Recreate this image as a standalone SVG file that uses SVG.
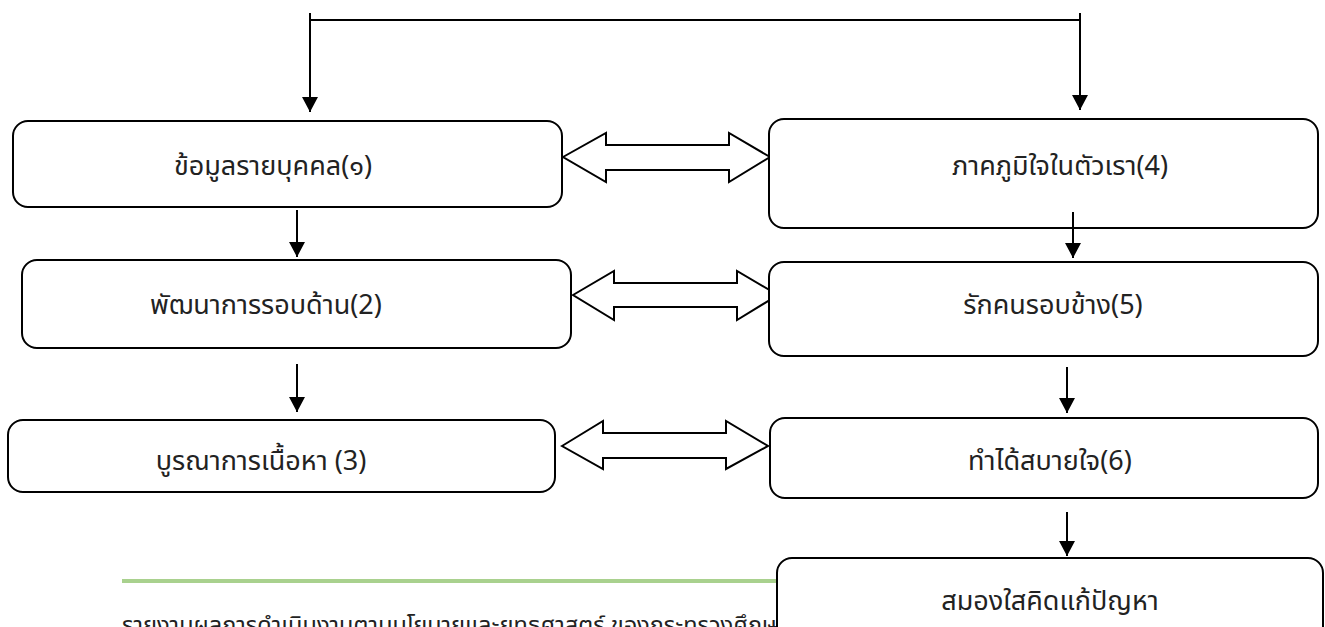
<svg xmlns="http://www.w3.org/2000/svg" width="1325" height="627" viewBox="0 0 1325 627">
<defs>
<marker id="ah" markerWidth="16" markerHeight="16" refX="15" refY="8" orient="auto" markerUnits="userSpaceOnUse">
<path d="M0,0 L15,8 L0,16 Z" fill="#000"/>
</marker>
<style>
.box{fill:#fff;stroke:#000;stroke-width:2}
.lbl{font-family:"Noto Sans Thai","Noto Sans","DejaVu Sans",sans-serif;font-size:27px;fill:#222;text-anchor:middle}
.ln{stroke:#000;stroke-width:2;fill:none}
.dbl{fill:#fff;stroke:#000;stroke-width:2;stroke-linejoin:miter}
</style>
</defs>
<rect width="1325" height="627" fill="#fff"/>
<text x="122" y="633" style="font-family:'Noto Sans Thai','Noto Sans','DejaVu Sans',sans-serif;font-size:23.5px;fill:#222">รายงานผลการดำเนินงานตามนโยบายและยุทธศาสตร์ ของกระทรวงศึกษ</text>
<line x1="122" y1="581" x2="778" y2="581" stroke="#a9d18e" stroke-width="4"/>
<g id="connectors">
<polyline class="ln" points="310,13 310,20 1080,20 1080,13"/>
<line class="ln" x1="310" y1="20" x2="310" y2="112" marker-end="url(#ah)"/>
<line class="ln" x1="1080" y1="20" x2="1080" y2="110" marker-end="url(#ah)"/>
<line class="ln" x1="297" y1="210" x2="297" y2="257" marker-end="url(#ah)"/>
<line class="ln" x1="297" y1="364" x2="297" y2="412" marker-end="url(#ah)"/>
<line class="ln" x1="1067" y1="367" x2="1067" y2="413" marker-end="url(#ah)"/>
<line class="ln" x1="1067" y1="512" x2="1067" y2="556" marker-end="url(#ah)"/>
<path class="dbl" d="M563,157 L606,133 L606,145 L729,145 L729,133 L770,157 L729,182 L729,170 L606,170 L606,182 Z"/>
<path class="dbl" d="M573,295 L614,271 L614,283 L737,283 L737,271 L778,295 L737,320 L737,307 L614,307 L614,320 Z"/>
<path class="dbl" d="M562,446 L603,421 L603,433 L726,433 L726,421 L768,446 L726,469 L726,458 L603,458 L603,469 Z"/>
</g>
<g id="n1"><rect class="box" x="13" y="121" width="549" height="86" rx="15"/><text class="lbl" x="273" y="175">ข้อมูลรายบุคคล(๑)</text></g>
<g id="n2"><rect class="box" x="22" y="260" width="549" height="88" rx="15"/><text class="lbl" x="266" y="314">พัฒนาการรอบด้าน(2)</text></g>
<g id="n3"><rect class="box" x="8" y="420" width="547" height="72" rx="15"/><text class="lbl" x="261" y="470">บูรณาการเนื้อหา (3)</text></g>
<g id="n4"><rect class="box" x="769" y="119" width="549" height="109" rx="15"/><text class="lbl" x="1060" y="175">ภาคภูมิใจในตัวเรา(4)</text></g>
<line class="ln" x1="1073" y1="212" x2="1073" y2="258" marker-end="url(#ah)"/>
<g id="n5"><rect class="box" x="769" y="262" width="549" height="94" rx="15"/><text class="lbl" x="1053" y="314">รักคนรอบข้าง(5)</text></g>
<g id="n6"><rect class="box" x="770" y="418" width="548" height="80" rx="15"/><text class="lbl" x="1050" y="470">ทำได้สบายใจ(6)</text></g>
<g id="n7"><rect class="box" x="777" y="558" width="546" height="90" rx="15"/><text class="lbl" x="1050" y="610">สมองใสคิดแก้ปัญหา</text></g>
</svg>
